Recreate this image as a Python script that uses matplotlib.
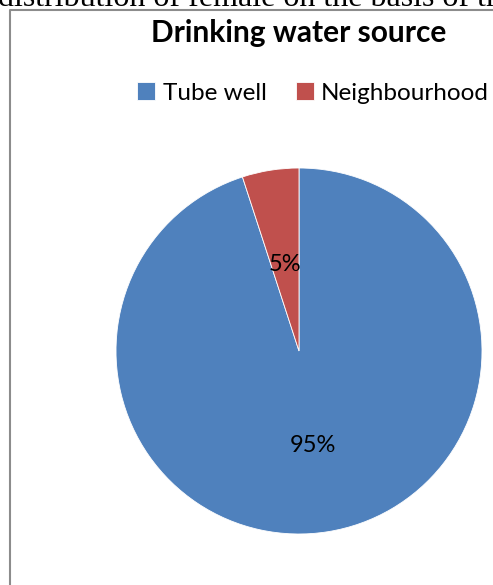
import matplotlib
matplotlib.use("Agg")
import matplotlib.pyplot as plt
from matplotlib.lines import Line2D

labels = ["Tube well", "Neighbourhood"]
shares = [95, 5]
colors = ["#4F81BD", "#C0504D"]

W, H = 493, 585
fig = plt.figure(figsize=(W / 100, H / 100), dpi=100)

# cut-off caption line from the surrounding document
fig.text(-2 / W, 1 - 6 / H, "distribution of female on the basis of th",
         family="Liberation Serif", fontsize=23, va="baseline", ha="left")

# chart area border (left + top visible)
fig.add_artist(Line2D([10 / W, 10 / W, 1.0], [0.0, 1 - 10 / H, 1 - 10 / H],
                      transform=fig.transFigure, color="#8c8c8c", lw=1.5))

ax = fig.add_axes([116 / W, 51 / H, 366 / W, 366 / H])
wedges, texts, autotexts = ax.pie(
    shares, colors=colors, startangle=90, counterclock=False,
    autopct="%d%%", pctdistance=0.5,
    wedgeprops=dict(edgecolor="white", linewidth=0.6),
    textprops=dict(family="Lato", fontsize=17, color="black"))
# Excel places the labels a touch lower
for t in autotexts:
    x, y = t.get_position()
    t.set_position((x, y - 0.02))
ax.set_xlim(-1, 1)
ax.set_ylim(-1, 1)
ax.set_aspect("equal")
ax.axis("off")

fig.text(299 / W, 1 - 33 / H, "Drinking water source", family="Lato",
         fontweight="bold", fontsize=21.5, ha="center", va="center")

fig.legend(wedges, labels, loc="center", bbox_to_anchor=(313 / W, 1 - 93 / H),
           ncol=2, frameon=False, prop=dict(family="Lato", size=17.5),
           handlelength=0.75, handleheight=0.75, handletextpad=0.3,
           columnspacing=1.2, borderpad=0)

fig.savefig("out.png", dpi=100)
